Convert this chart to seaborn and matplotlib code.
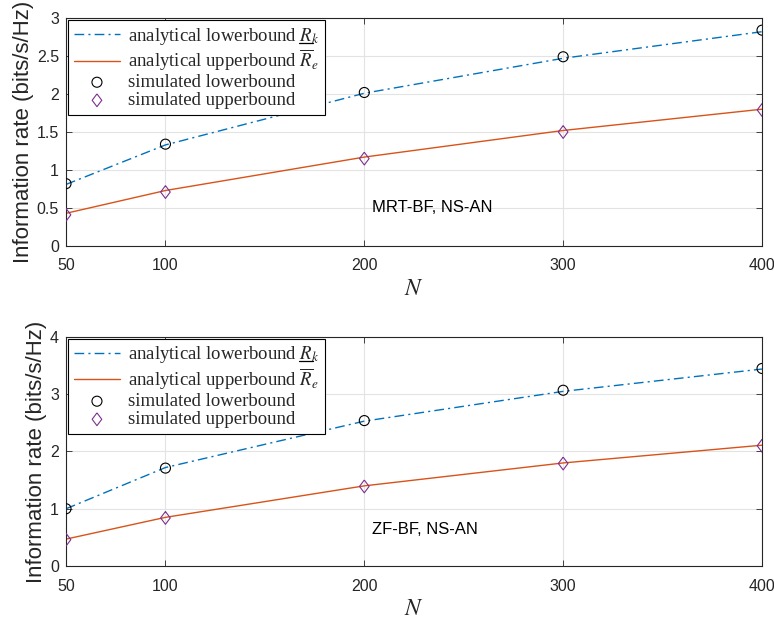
import numpy as np
import pandas as pd
import matplotlib
matplotlib.use("Agg")
import matplotlib.pyplot as plt
from matplotlib.lines import Line2D
import seaborn as sns

# ---- data ----
N_vals = [50, 100, 200, 300, 400]
mrt_lower_analytical = [0.81, 1.33, 2.01, 2.47, 2.82]
mrt_upper_analytical = [0.43, 0.73, 1.17, 1.52, 1.80]
mrt_lower_sim = [0.82, 1.34, 2.02, 2.49, 2.84]
mrt_upper_sim = [0.41, 0.71, 1.15, 1.50, 1.79]

zf_lower_analytical = [1.00, 1.72, 2.53, 3.05, 3.44]
zf_upper_analytical = [0.47, 0.85, 1.40, 1.80, 2.11]
zf_lower_sim = [1.00, 1.71, 2.54, 3.07, 3.45]
zf_upper_sim = [0.46, 0.84, 1.39, 1.79, 2.10]

panel_texts = ["MRT-BF, NS-AN", "ZF-BF, NS-AN"]
ylims = [(0, 3), (0, 4)]
yticks_list = [[0, 0.5, 1, 1.5, 2, 2.5, 3], [0, 1, 2, 3, 4]]
ytick_labels_list = [["0", "0.5", "1", "1.5", "2", "2.5", "3"], ["0", "1", "2", "3", "4"]]
xtick_labels = ["50", "100", "200", "300", "400"]

labels = [r"analytical lowerbound $R_k$",
          r"analytical upperbound $\overline{R}_e$",
          "simulated lowerbound",
          "simulated upperbound"]

sns.set_theme(style="whitegrid")
plt.rcParams["font.family"] = ["Liberation Sans", "DejaVu Sans"]
plt.rcParams["mathtext.fontset"] = "stix"

fig = plt.figure(figsize=(7.74, 6.19), dpi=100)
positions = [[0.0853, 0.6026, 0.8992, 0.3683], [0.0853, 0.0856, 0.8992, 0.3700]]

panels = [
    (mrt_lower_analytical, mrt_upper_analytical, mrt_lower_sim, mrt_upper_sim),
    (zf_lower_analytical, zf_upper_analytical, zf_lower_sim, zf_upper_sim),
]

blue = "#0072BD"
orange = "#D95319"
purple = "#7E2F8E"
diamond = [(0, 1), (0.75, 0), (0, -1), (-0.75, 0), (0, 1)]

legends = []
for i, (la, ua, ls, us) in enumerate(panels):
    ax = fig.add_axes(positions[i])
    df = pd.DataFrame({"N": N_vals, "la": la, "ua": ua, "ls": ls, "us": us})
    sns.lineplot(data=df, x="N", y="la", ax=ax, color=blue, lw=1.0,
                 linestyle=(0, (7, 3, 1.5, 3)), label=labels[0])
    sns.lineplot(data=df, x="N", y="ua", ax=ax, color=orange, lw=1.0,
                 label=labels[1])
    sns.scatterplot(data=df, x="N", y="ls", ax=ax, marker="o", s=52,
                    facecolors="none", edgecolor="black", linewidth=0.8,
                    label=labels[2], zorder=5)
    sns.scatterplot(data=df, x="N", y="us", ax=ax, marker=diamond, s=85,
                    facecolors="none", edgecolor=purple, linewidth=0.8,
                    label=labels[3], zorder=5)
    ax.set_xlim(50, 400)
    ax.set_ylim(*ylims[i])
    ax.set_xticks(N_vals)
    ax.set_xticklabels(xtick_labels)
    ax.set_yticks(yticks_list[i])
    ax.set_yticklabels(ytick_labels_list[i])
    ax.grid(True, color="#e3e3e3", lw=0.8)
    for sp in ax.spines.values():
        sp.set_visible(True)
        sp.set_color("#262626")
        sp.set_linewidth(0.8)
    ax.tick_params(direction="in", length=4, width=0.6, colors="#262626",
                   labelsize=11.5, top=True, right=True, bottom=True, left=True,
                   labelcolor="#262626")
    ax.tick_params(axis="x", pad=9)
    ax.tick_params(axis="y", pad=5)
    ax.set_xlabel(r"$N$", fontsize=17, labelpad=3)
    ax.set_ylabel("Information rate (bits/s/Hz)", fontsize=16, color="#262626", labelpad=2)
    ax.text(204, 0.5 if i == 0 else 0.63, panel_texts[i], fontsize=12,
            ha="left", va="center", color="black")
    leg = ax.legend(loc="upper left", frameon=True, fancybox=False,
                    edgecolor="black", framealpha=1,
                    prop={"family": "Liberation Serif", "size": 13.5},
                    borderaxespad=0.1, borderpad=0.3, labelspacing=0.05,
                    handlelength=2.5, handletextpad=0.4)
    leg.get_frame().set_linewidth(0.8)
    legends.append(leg)

# underline the R in the first legend label of each panel
fig.canvas.draw()
renderer = fig.canvas.get_renderer()
for leg in legends:
    txt = leg.get_texts()[0]
    fp = txt.get_fontproperties()
    bb = txt.get_window_extent(renderer)
    tmp = fig.text(0, 0, r"$R_k$", fontproperties=fp)
    w_rk = tmp.get_window_extent(renderer).width
    tmp.set_text(r"$R$")
    w_r = tmp.get_window_extent(renderer).width
    tmp.remove()
    _, _, d = renderer.get_text_width_height_descent(txt.get_text(), fp, ismath=True)
    x0 = bb.x1 - w_rk - 0.5
    x1 = x0 + w_r + 0.5
    y = bb.y0 + d - 2.0
    (fx0, fy), (fx1, _) = fig.transFigure.inverted().transform([(x0, y), (x1, y)])
    fig.add_artist(Line2D([fx0, fx1], [fy, fy], transform=fig.transFigure,
                          color="black", lw=0.9, zorder=20))

fig.savefig("out.png", dpi=100)
